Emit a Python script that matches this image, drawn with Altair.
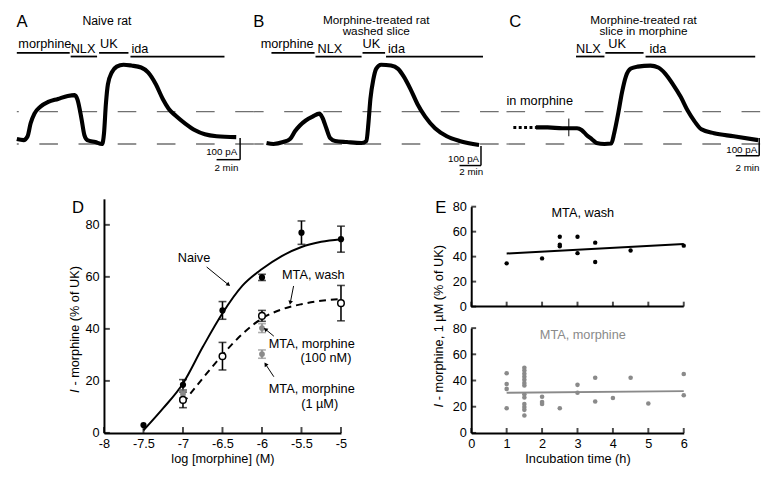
import altair as alt
import pandas as pd

FONT = "Liberation Sans"
DASH_GRAY = "#707070"
PT_GRAY = "#8a8a8a"

# ================= Panels A-C: current traces =================
# time (min from panel left edge), current (pA above lower dashed baseline)
a_t = [0.0, 0.58, 0.92, 1.17, 1.5, 2.0, 2.67, 3.5, 4.33, 4.92, 5.17, 5.5, 5.75, 6.0, 6.67, 7.25, 7.42, 7.58,
       7.75, 8.08, 8.5, 9.08, 9.75, 10.58, 11.17, 11.83, 12.42, 12.92, 13.5, 14.33, 15.17, 16.0, 17.0, 18.67]
a_i = [23, 18, 36, 95, 141, 173, 195, 209, 223, 227, 205, 118, 41, 18, 9, 0, 50, 186,
       277, 332, 359, 368, 364, 355, 332, 277, 209, 164, 132, 95, 64, 45, 36, 32]

b_t = [1.08, 1.67, 2.5, 3.08, 3.5, 3.92, 4.42, 5.0, 5.58, 5.83, 6.17, 6.5, 6.92, 7.92, 9.17, 9.58, 9.75, 9.92,
       10.17, 10.42, 10.83, 11.67, 12.25, 12.75, 13.33, 13.92, 14.58, 15.42, 16.42, 17.5, 19.17]
b_i = [4.5, 0, 9, 23, 59, 86, 109, 127, 141, 123, 73, 27, 14, 9, 4.5, 14, 95, 209,
       300, 350, 368, 364, 350, 314, 255, 186, 127, 73, 36, 14, -5]

c_t = [3.17, 4.17, 5.42, 6.67, 7.08, 7.5, 7.92, 8.33, 9.0, 9.58, 9.83, 10.17, 10.5, 10.83, 11.25, 11.83,
       12.92, 13.58, 14.17, 14.83, 15.5, 16.08, 16.67, 17.25, 18.33, 20.0, 22.08]
c_i = [77, 77, 73, 73, 64, 41, 23, 5, 0, 2, 50, 141, 241, 314, 350, 359,
       364, 355, 327, 277, 218, 155, 105, 68, 50, 36, 18]

baselines_pA = [0, 150]

# drug application bars
a_bar_lab = ["morphine", "NLX", "UK", "ida"]
a_bar_t0 = [0.0, 4.58, 7.0, 9.67]
a_bar_t1 = [4.5, 6.83, 9.5, 17.67]
a_bar_lvl = [423, 406, 423, 406]
a_lab_t = [0.13, 4.58, 7.08, 9.75]
a_lab_lvl = [445, 423, 445, 423]

b_bar_lab = ["morphine", "NLX", "UK", "ida"]
b_bar_t0 = [1.5, 5.25, 9.25, 11.25]
b_bar_t1 = [5.17, 9.17, 11.17, 19.5]
b_bar_lvl = [423, 406, 423, 406]
b_lab_t = [0.58, 5.42, 9.25, 11.42]
b_lab_lvl = [445, 423, 445, 423]

c_bar_lab = ["NLX", "UK", "ida"]
c_bar_t0 = [6.58, 9.08, 12.5]
c_bar_t1 = [9.0, 12.33, 21.83]
c_bar_lvl = [406, 423, 406]
c_lab_t = [6.58, 9.33, 12.83]
c_lab_lvl = [423, 445, 423]

# titles
a_title = ["Naive rat"]
a_title_t = [7.67]
a_title_lvl = [550]
b_title = ["Morphine-treated rat", "washed slice"]
b_title_t = [10.42, 10.42]
b_title_lvl = [559, 504.5]
c_title = ["Morphine-treated rat", "slice in morphine"]
c_title_t = [12.33, 12.33]
c_title_lvl = [559, 504.5]

letters = ["A", "B", "C"]
letter_t = [0.45, 0.42, 1.42]
letter_lvl = [541, 541, 541]

# scale bars (t0, t1, y0, y1) and their labels
a_sb = dict(t0=[17, 19], t1=[19, 19], y0=[-72.7, -72.7], y1=[-72.7, 27.3])
b_sb = dict(t0=[17.5, 19.33], t1=[19.33, 19.33], y0=[-100, -100], y1=[-100, -9])
c_sb = dict(t0=[20.17, 22.17], t1=[22.17, 22.17], y0=[-54.5, -54.5], y1=[-54.5, 27.3])
a_sb_pa = (18.75, -50)
b_sb_pa = (19.17, -82)
c_sb_pa = (22.0, -44)
a_sb_min = (17.83, -123)
b_sb_min = (18.5, -146)
c_sb_min = (21.17, -123)

# panel C extras
c_pre_t = [1.25, 3.17]
c_pre_lvl = 77
c_spike_t = 5.97
c_spike_y = [36, 118]
c_inm_t = 0.67
c_inm_lvl = 182

# ================= Panel D: concentration-response =================
d_xticks = [-8, -7.5, -7, -6.5, -6, -5.5, -5]
d_yticks = [0, 20, 40, 60, 80]

naive_x = [-7.5, -7, -6.5, -6, -5.5, -5]
naive_y = [3.0, 18.5, 47.1, 59.8, 77.0, 74.5]
naive_e = [0.0, 2.0, 3.4, 1.2, 4.5, 5.0]
wash_x = [-7, -6.5, -6, -5]
wash_y = [12.7, 29.5, 45.0, 49.9]
wash_e = [3.0, 5.3, 2.1, 6.8]
m100_x = [-7, -6]
m100_y = [15.0, 40.3]
m100_e = [1.5, 1.7]
m1_x = [-6]
m1_y = [30.3]
m1_e = [1.6]

naive_fit_x = [-7.5, -7.25, -7, -6.75, -6.5, -6.25, -6, -5.75, -5.5, -5.25, -5]
naive_fit_y = [1, 9.5, 19, 33, 46, 56.5, 63, 68, 71.5, 73.5, 74.5]
wash_fit_x = [-7, -6.75, -6.5, -6.25, -6, -5.75, -5.5, -5.25, -5]
wash_fit_y = [11.5, 21, 30, 38, 44, 47.5, 49.5, 50.8, 51.5]

d_ann_text = ["Naive", "MTA, wash", "MTA, morphine", "(100 nM)", "MTA, morphine", "(1 µM)"]
d_ann_x = [-6.86, -5.35, -5.37, -5.19, -5.37, -5.27]
d_ann_y = [65.7, 59.0, 32.8, 27.2, 15.3, 9.7]

d_arr_x0 = [-6.70, -5.60, -5.85, -5.85]
d_arr_y0 = [63.8, 56.5, 37.2, 21.6]
d_arr_x1 = [-6.43, -5.64, -5.95, -5.95]
d_arr_y1 = [57.1, 50.3, 39.7, 26.2]
d_arr_ang = [129, 192, 308, 326]

# ================= Panel E: incubation time =================
e_ticks_x = [0, 1, 2, 3, 4, 5, 6]
e_ticks_y = [0, 20, 40, 60, 80]
e_wash_t = [1, 2, 2.5, 2.5, 2.5, 3, 3, 3.5, 3.5, 4.5, 6]
e_wash_v = [34.6, 38.6, 55.9, 49.6, 48.3, 55.9, 42.8, 51.2, 35.7, 44.9, 48.8]
e_wash_fit_t = [1, 6]
e_wash_fit_v = [42.5, 50.1]

e_morph_t = [1, 1, 1, 1,
             1.5, 1.5, 1.5, 1.5, 1.5, 1.5, 1.5, 1.5, 1.5, 1.5, 1.5, 1.5, 1.5,
             2, 2, 2, 2.5, 3, 3, 3.5, 3.5, 4, 4.5, 5, 6, 6]
e_morph_v = [45.5, 37.4, 33.6, 18.8,
             49.8, 47.6, 45.2, 42.9, 40.5, 38.1, 36.2, 29.5, 27.0, 22.0, 19.8, 17.6, 13.3,
             27.6, 23.6, 22.1, 18.8, 36.7, 30.7, 42.1, 24.0, 26.7, 42.1, 22.4, 45.0, 28.8]
e_morph_fit_t = [1, 6]
e_morph_fit_v = [30.7, 31.9]


# ================= builders =================
TOP_H = 188
Y_TOP = [-250, 604.5]


def top_panel(width, tr_t, tr_i, bar_lab, bar_t0, bar_t1, bar_lvl, lab_t, lab_lvl,
              title, title_t, title_lvl, letter, let_t, let_lvl, sb, sb_pa, sb_min, extra=False):
    xs = alt.Scale(domain=[0, width / 12.0], nice=False, zero=False)
    ys = alt.Scale(domain=Y_TOP, nice=False, zero=False)

    def X(f):
        return alt.X(f, type="quantitative", scale=xs, axis=None)

    def Y(f):
        return alt.Y(f, type="quantitative", scale=ys, axis=None)

    layers = []
    layers.append(alt.Chart(pd.DataFrame({"lvl": baselines_pA})).mark_rule(
        color=DASH_GRAY, strokeWidth=1.3, strokeDash=[19, 21]).encode(y=Y("lvl")))
    layers.append(alt.Chart(pd.DataFrame({"t": tr_t, "i": tr_i})).mark_line(
        color="black", strokeWidth=4.2, interpolate="monotone").encode(x=X("t"), y=Y("i")))
    layers.append(alt.Chart(pd.DataFrame({"t0": bar_t0, "t1": bar_t1, "lvl": bar_lvl})).mark_rule(
        color="black", strokeWidth=1.8).encode(x=X("t0"), x2="t1", y=Y("lvl")))
    layers.append(alt.Chart(pd.DataFrame({"t": lab_t, "lvl": lab_lvl, "lab": bar_lab})).mark_text(
        align="left", baseline="alphabetic", fontSize=13, color="black").encode(
        x=X("t"), y=Y("lvl"), text="lab:N"))
    layers.append(alt.Chart(pd.DataFrame({"t": title_t, "lvl": title_lvl, "lab": title})).mark_text(
        align="center", baseline="alphabetic", fontSize=12.5 if len(title) == 1 else 12, color="black").encode(
        x=X("t"), y=Y("lvl"), text="lab:N"))
    layers.append(alt.Chart(pd.DataFrame({"t": [let_t], "lvl": [let_lvl], "lab": [letter]})).mark_text(
        align="center", baseline="alphabetic", fontSize=17, color="black").encode(
        x=X("t"), y=Y("lvl"), text="lab:N"))
    layers.append(alt.Chart(pd.DataFrame(sb)).mark_rule(color="black", strokeWidth=1.5).encode(
        x=X("t0"), x2="t1", y=Y("y0"), y2="y1"))
    layers.append(alt.Chart(pd.DataFrame({"t": [sb_pa[0]], "lvl": [sb_pa[1]], "lab": ["100 pA"]})).mark_text(
        align="right", baseline="alphabetic", fontSize=10, color="black").encode(
        x=X("t"), y=Y("lvl"), text="lab:N"))
    layers.append(alt.Chart(pd.DataFrame({"t": [sb_min[0]], "lvl": [sb_min[1]], "lab": ["2 min"]})).mark_text(
        align="center", baseline="alphabetic", fontSize=10, color="black").encode(
        x=X("t"), y=Y("lvl"), text="lab:N"))
    if extra:
        layers.append(alt.Chart(pd.DataFrame({"t0": [c_pre_t[0]], "t1": [c_pre_t[1]], "lvl": [c_pre_lvl]})).mark_rule(
            color="black", strokeWidth=3, strokeDash=[3, 2.5]).encode(x=X("t0"), x2="t1", y=Y("lvl")))
        layers.append(alt.Chart(pd.DataFrame({"t": [c_spike_t], "y0": [c_spike_y[0]], "y1": [c_spike_y[1]]})).mark_rule(
            color="black", strokeWidth=1).encode(x=X("t"), y=Y("y0"), y2="y1"))
        layers.append(alt.Chart(pd.DataFrame({"t": [c_inm_t], "lvl": [c_inm_lvl], "lab": ["in morphine"]})).mark_text(
            align="left", baseline="alphabetic", fontSize=13, color="black").encode(
            x=X("t"), y=Y("lvl"), text="lab:N"))
    return alt.layer(*layers).properties(width=width, height=TOP_H)


panel_a = top_panel(242, a_t, a_i, a_bar_lab, a_bar_t0, a_bar_t1, a_bar_lvl, a_lab_t, a_lab_lvl,
                    a_title, a_title_t, a_title_lvl, letters[0], letter_t[0], letter_lvl[0], a_sb, a_sb_pa, a_sb_min)
panel_b = top_panel(250, b_t, b_i, b_bar_lab, b_bar_t0, b_bar_t1, b_bar_lvl, b_lab_t, b_lab_lvl,
                    b_title, b_title_t, b_title_lvl, letters[1], letter_t[1], letter_lvl[1], b_sb, b_sb_pa, b_sb_min)
panel_c = top_panel(267, c_t, c_i, c_bar_lab, c_bar_t0, c_bar_t1, c_bar_lvl, c_lab_t, c_lab_lvl,
                    c_title, c_title_t, c_title_lvl, letters[2], letter_t[2], letter_lvl[2], c_sb, c_sb_pa, c_sb_min,
                    extra=True)

# ---------------- panel D ----------------
D_H = 239
dxs = alt.Scale(domain=[-8, -5], nice=False, zero=False)
dys = alt.Scale(domain=[0, 90], nice=False, zero=False)
d_xaxis = alt.Axis(values=d_xticks, labelExpr="datum.value + ''", title="log [morphine] (M)",
                   labelPadding=5, titlePadding=2, labelFlush=False)
d_yaxis = alt.Axis(values=d_yticks, title=None, labelPadding=5)


def DX(f):
    return alt.X(f, type="quantitative", scale=dxs, axis=d_xaxis)


def DY(f):
    return alt.Y(f, type="quantitative", scale=dys, axis=d_yaxis)


err_rows = []
for xs_, ys_, es_, col in [(naive_x, naive_y, naive_e, "black"), (wash_x, wash_y, wash_e, "black"),
                           (m100_x, m100_y, m100_e, PT_GRAY), (m1_x, m1_y, m1_e, PT_GRAY)]:
    for x_, y_, e_ in zip(xs_, ys_, es_):
        if e_ > 0:
            err_rows.append({"x": x_, "lo": y_ - e_, "hi": y_ + e_, "col": col})
err_df = pd.DataFrame(err_rows)
cap_df = pd.concat([err_df[["x", "lo", "col"]].rename(columns={"lo": "y"}),
                    err_df[["x", "hi", "col"]].rename(columns={"hi": "y"})])

d_layers = [
    alt.Chart(pd.DataFrame({"x": naive_fit_x, "y": naive_fit_y})).mark_line(
        color="black", strokeWidth=2, interpolate="monotone").encode(x=DX("x"), y=DY("y")),
    alt.Chart(pd.DataFrame({"x": wash_fit_x, "y": wash_fit_y})).mark_line(
        color="black", strokeWidth=2, strokeDash=[7, 5], interpolate="monotone").encode(x=DX("x"), y=DY("y")),
    alt.Chart(err_df).mark_rule(strokeWidth=1.6).encode(
        x=DX("x"), y=DY("lo"), y2="hi", color=alt.Color("col:N", scale=None)),
    alt.Chart(cap_df).mark_tick(orient="horizontal", size=8, thickness=1.6).encode(
        x=DX("x"), y=DY("y"), color=alt.Color("col:N", scale=None)),
    alt.Chart(pd.DataFrame({"x": naive_x, "y": naive_y})).mark_point(
        filled=True, color="black", size=40, opacity=1).encode(x=DX("x"), y=DY("y")),
    alt.Chart(pd.DataFrame({"x": m100_x, "y": m100_y})).mark_point(
        filled=True, color=PT_GRAY, size=35, opacity=1).encode(x=DX("x"), y=DY("y")),
    alt.Chart(pd.DataFrame({"x": m1_x, "y": m1_y})).mark_point(
        filled=True, color=PT_GRAY, size=35, opacity=1).encode(x=DX("x"), y=DY("y")),
    alt.Chart(pd.DataFrame({"x": wash_x, "y": wash_y})).mark_point(
        filled=True, fill="white", stroke="black", strokeWidth=1.5, size=45, opacity=1).encode(
        x=DX("x"), y=DY("y")),
    alt.Chart(pd.DataFrame({"x": d_ann_x, "y": d_ann_y, "lab": d_ann_text})).mark_text(
        align="center", baseline="alphabetic", fontSize=13, color="black").encode(
        x=DX("x"), y=DY("y"), text="lab:N"),
    alt.Chart(pd.DataFrame({"x": d_arr_x0, "y": d_arr_y0, "x2": d_arr_x1, "y2": d_arr_y1})).mark_rule(
        color="black", strokeWidth=1).encode(x=DX("x"), y=DY("y"), x2="x2", y2="y2"),
    alt.Chart(pd.DataFrame({"x": d_arr_x1, "y": d_arr_y1, "a": d_arr_ang})).mark_point(
        shape="triangle", filled=True, color="black", size=22, opacity=1).encode(
        x=DX("x"), y=DY("y"), angle=alt.Angle("a:Q", scale=None)),
    # inward ticks
    alt.Chart(pd.DataFrame({"x": d_xticks, "y": [0] * len(d_xticks)})).mark_tick(
        orient="vertical", size=6, thickness=2, yOffset=-3, color="black").encode(x=DX("x"), y=DY("y")),
    alt.Chart(pd.DataFrame({"y": d_yticks, "x": [-8] * len(d_yticks)})).mark_tick(
        orient="horizontal", size=6, thickness=2, xOffset=3, color="black").encode(x=DX("x"), y=DY("y")),
    # y title (italic I)
    alt.Chart(pd.DataFrame({"x": [-8.37], "y": [15.3], "lab": ["I"]})).mark_text(
        angle=270, align="left", baseline="middle", fontSize=13, fontStyle="italic", color="black").encode(
        x=DX("x"), y=DY("y"), text="lab:N"),
    alt.Chart(pd.DataFrame({"x": [-8.37], "y": [18.2], "lab": ["- morphine (% of UK)"]})).mark_text(
        angle=270, align="left", baseline="middle", fontSize=13, color="black").encode(
        x=DX("x"), y=DY("y"), text="lab:N"),
    alt.Chart(pd.DataFrame({"x": [-8.33], "y": [84.6], "lab": ["D"]})).mark_text(
        align="center", baseline="alphabetic", fontSize=17, color="black").encode(
        x=DX("x"), y=DY("y"), text="lab:N"),
]
panel_d = alt.layer(*d_layers).properties(width=242, height=D_H)

# ---------------- panel E (two stacked plots in one view) ----------------
E_H = D_H
exs = alt.Scale(domain=[0, 6], nice=False, zero=False)
eys_top = alt.Scale(domain=[0, 80], range=[110, 8], nice=False, zero=False)
eys_bot = alt.Scale(domain=[0, 80], range=[E_H, 132], nice=False, zero=False)
e_xaxis = alt.Axis(values=e_ticks_x, title="Incubation time (h)", labelPadding=5, titlePadding=2,
                   labelFlush=False, orient="bottom")
e_yaxis_top = alt.Axis(values=e_ticks_y, title=None, labelPadding=5, orient="left")
e_yaxis_bot = alt.Axis(values=e_ticks_y, title=None, labelPadding=5, orient="left")


def EX(f):
    return alt.X(f, type="quantitative", scale=exs, axis=e_xaxis)


def e_layers(ys, yaxis, pts_t, pts_v, fit_t, fit_v, col, label, top):
    def EY(f):
        return alt.Y(f, type="quantitative", scale=ys, axis=yaxis)

    layers = []
    if top:
        layers.append(alt.Chart(pd.DataFrame({"x": [0], "x2": [6], "y": [0]})).mark_rule(
            color="black", strokeWidth=2).encode(x=EX("x"), x2="x2", y=EY("y")))
    layers += [
        alt.Chart(pd.DataFrame({"x": [fit_t[0]], "y": [fit_v[0]], "x2": [fit_t[1]], "y2": [fit_v[1]]})).mark_rule(
            color=col, strokeWidth=2).encode(x=EX("x"), y=EY("y"), x2="x2", y2="y2"),
        alt.Chart(pd.DataFrame({"x": pts_t, "y": pts_v})).mark_point(
            filled=True, color=col, size=20 if top else 22, opacity=1).encode(x=EX("x"), y=EY("y")),
        alt.Chart(pd.DataFrame({"x": e_ticks_x, "y": [0] * len(e_ticks_x)})).mark_tick(
            orient="vertical", size=5, thickness=2, yOffset=-2.5, color="black").encode(x=EX("x"), y=EY("y")),
        alt.Chart(pd.DataFrame({"y": e_ticks_y, "x": [0] * len(e_ticks_y)})).mark_tick(
            orient="horizontal", size=5, thickness=2, xOffset=2.5, color="black").encode(x=EX("x"), y=EY("y")),
        alt.Chart(pd.DataFrame({"x": [3.15], "y": [71.4], "lab": [label]})).mark_text(
            align="center", baseline="alphabetic", fontSize=13, color=col).encode(
            x=EX("x"), y=EY("y"), text="lab:N"),
    ]
    if top:
        layers.append(alt.Chart(pd.DataFrame({"x": [-0.86], "y": [75.3], "lab": ["E"]})).mark_text(
            align="center", baseline="alphabetic", fontSize=17, color="black").encode(
            x=EX("x"), y=EY("y"), text="lab:N"))
    else:
        layers.append(alt.Chart(pd.DataFrame({"x": [-0.90], "y": [19.4], "lab": ["I"]})).mark_text(
            angle=270, align="left", baseline="middle", fontSize=13, fontStyle="italic", color="black").encode(
            x=EX("x"), y=EY("y"), text="lab:N"))
        layers.append(alt.Chart(pd.DataFrame({"x": [-0.90], "y": [25.0], "lab": ["- morphine, 1 µM (% of UK)"]})).mark_text(
            angle=270, align="left", baseline="middle", fontSize=13, color="black").encode(
            x=EX("x"), y=EY("y"), text="lab:N"))
    return alt.layer(*layers)


e_top = e_layers(eys_top, e_yaxis_top, e_wash_t, e_wash_v, e_wash_fit_t, e_wash_fit_v, "black", "MTA, wash", True)
e_bot = e_layers(eys_bot, e_yaxis_bot, e_morph_t, e_morph_v, e_morph_fit_t, e_morph_fit_v, PT_GRAY,
                 "MTA, morphine", False)
panel_e = alt.layer(e_top, e_bot).resolve_scale(y="independent").properties(width=217, height=E_H)


def spacer(w):
    return alt.Chart(pd.DataFrame({"v": [0]})).mark_point(opacity=0, size=1).encode(
        x=alt.value(1), y=alt.value(1)).properties(width=w, height=20)


top_row = alt.hconcat(panel_a, panel_b, panel_c, spacing=0, bounds="flush")
bottom_row = alt.hconcat(spacer(53), panel_d, spacer(79), panel_e, spacing=0)

chart = alt.vconcat(top_row, bottom_row, spacing=0, padding=0, background="white").configure(
    font=FONT
).configure_view(stroke=None).configure_axis(
    labelFont=FONT, titleFont=FONT, labelFontSize=13, titleFontSize=13, titleFontWeight="normal",
    domainColor="black", domainWidth=2, labelColor="black", titleColor="black",
    grid=False, ticks=False, tickSize=0
)

chart.save("out.html", embed_options={"renderer": "svg", "actions": False})
